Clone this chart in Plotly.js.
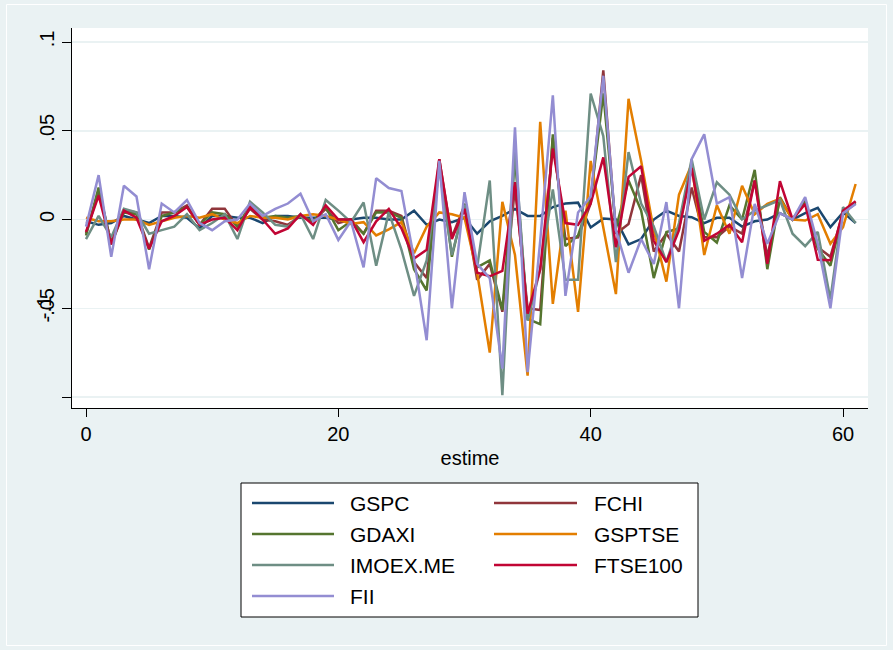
<!DOCTYPE html>
<html>
<head>
<meta charset="utf-8">
<script src="https://cdn.plot.ly/plotly-3.0.1.min.js"></script>
<style>html,body{margin:0;padding:0;background:#EAF2F3;}#chart{width:893px;height:650px;}</style>
</head>
<body>
<div id="chart"></div>
<script>
const estime = [0,1,2,3,4,5,6,7,8,9,10,11,12,13,14,15,16,17,18,19,20,21,22,23,24,25,26,27,28,29,30,31,32,33,34,35,36,37,38,39,40,41,42,43,44,45,46,47,48,49,50,51,52,53,54,55,56,57,58,59,60,61];

const GSPC = [-0.001,-0.003,-0.002,0.002,0.000,-0.002,0.002,0.002,0.001,-0.005,0.002,0.002,0.001,0.001,-0.002,0.002,0.002,0.001,0.001,0.001,0.000,0.000,0.001,0.001,0.000,0.000,0.005,-0.003,0.000,-0.0015,0.001,-0.008,-0.001,0.002,0.006,0.002,0.002,0.007,0.009,0.0095,-0.0045,0.0005,0.000,-0.014,-0.011,0.000,0.005,0.002,0.0013,-0.002,0.001,0.001,-0.004,-0.001,0.000,0.0036,0.000,0.0036,0.0066,-0.0043,0.004,-0.002];

const FCHI = [-0.008,0.016,-0.013,0.005,0.004,-0.016,0.004,0.004,0.008,-0.003,0.006,0.006,-0.004,0.006,0.000,-0.001,-0.003,0.002,-0.001,0.006,-0.002,0.000,-0.008,0.005,0.005,0.002,-0.024,-0.033,0.034,-0.010,0.008,-0.034,-0.025,-0.052,0.018,-0.050,-0.051,0.046,-0.011,-0.010,0.009,0.084,-0.008,-0.0025,0.025,-0.018,-0.008,-0.018,0.018,-0.010,-0.010,-0.004,-0.008,0.022,-0.021,0.0116,0.000,0.0107,-0.0156,-0.021,0.004,0.0098];

const GDAXI = [-0.009,0.018,-0.014,0.004,0.003,-0.017,0.002,0.004,0.007,-0.003,0.004,0.003,-0.004,0.008,0.001,0.002,0.001,0.002,-0.001,0.007,-0.006,-0.001,-0.008,0.004,0.004,0.001,-0.028,-0.040,0.032,-0.021,0.009,-0.027,-0.023,-0.051,0.035,-0.056,-0.059,0.048,-0.015,-0.009,0.012,0.071,-0.005,0.022,0.005,-0.033,-0.007,-0.005,0.031,-0.007,-0.013,0.008,0.000,0.028,-0.028,0.0126,0.000,0.0098,-0.0165,-0.026,0.004,0.009];

const GSPTSE = [0.001,-0.001,-0.001,0.000,0.000,-0.003,-0.001,0.001,0.002,0.001,0.003,0.000,-0.002,0.002,0.001,0.001,0.000,0.002,0.003,0.002,0.000,-0.0025,-0.0015,-0.009,-0.0056,-0.0015,-0.019,-0.004,0.004,0.003,0.001,-0.030,-0.075,0.010,-0.020,-0.088,0.055,-0.0475,0.005,-0.052,0.033,-0.004,-0.042,0.068,0.033,-0.006,-0.035,0.014,0.031,-0.020,0.008,-0.008,0.019,0.003,0.0088,0.0116,0.000,-0.0006,0.003,-0.0137,-0.0043,0.020];

const IMOEX = [-0.011,0.002,-0.010,0.006,0.004,-0.008,-0.006,-0.004,0.003,-0.006,-0.002,0.003,-0.011,0.010,0.004,-0.003,-0.004,0.003,-0.011,0.011,0.005,-0.0015,0.0096,-0.026,0.004,-0.017,-0.043,-0.023,0.029,-0.020,0.008,-0.027,0.022,-0.099,0.040,-0.057,-0.028,0.017,-0.034,-0.034,0.071,0.047,-0.024,0.038,0.009,-0.004,-0.024,-0.002,0.034,0.000,0.021,0.014,0.000,0.005,0.008,0.011,-0.008,-0.015,-0.007,-0.045,0.007,-0.002];

const FTSE100 = [-0.007,0.0135,-0.014,0.005,0.001,-0.0165,-0.001,0.002,0.007,-0.003,0.000,0.001,-0.006,0.007,0.000,-0.008,-0.005,0.003,-0.003,0.008,0.000,0.000,-0.0128,-0.001,0.006,-0.005,-0.022,-0.017,0.034,-0.011,0.006,-0.030,-0.032,-0.029,0.021,-0.053,-0.028,0.040,-0.002,-0.003,0.009,0.035,-0.0156,0.024,0.030,-0.012,-0.024,-0.006,0.029,-0.012,-0.008,-0.003,-0.0128,0.022,-0.025,0.0216,0.000,0.0088,-0.0227,-0.023,0.005,0.0103];

const FII = [-0.004,0.025,-0.021,0.019,0.013,-0.028,0.009,0.004,0.011,-0.002,-0.006,-0.001,0.000,0.009,0.002,0.006,0.009,0.0145,-0.001,0.003,-0.0115,-0.001,-0.027,0.0233,0.0177,0.016,-0.022,-0.068,0.033,-0.050,0.0154,-0.025,-0.033,-0.084,0.052,-0.086,-0.012,0.070,-0.043,0.004,0.013,0.081,-0.006,-0.030,-0.011,-0.025,0.0098,-0.050,0.034,0.048,0.009,0.0126,-0.033,0.0088,-0.0137,0.0036,0.000,0.0126,-0.0137,-0.050,0.0036,0.0088];

const seriesNames = ["GSPC","FCHI","GDAXI","GSPTSE","IMOEX.ME","FTSE100","FII"];
const seriesData = [GSPC, FCHI, GDAXI, GSPTSE, IMOEX, FTSE100, FII];
const seriesColors = ["#1a476f","#90353b","#55752f","#e37e00","#6e8e84","#c10534","#938dd2"];

const yTickVals = [-0.1,-0.05,0,0.05,0.1];
const yTickText = ["","-.05","0",".05",".1"];
const xTickVals = [0,20,40,60];

const FONT = "Liberation Sans, Arial, Helvetica, sans-serif";

// plot area in pixels
const W = 893, H = 650;
const L = 72, R = 868, T = 28, B = 408;
const px2x = p => (p - L) / (R - L);
const py2y = p => (B - p) / (B - T);

const traces = seriesNames.map((n, i) => ({
  type: "scatter", mode: "lines", name: n,
  x: estime, y: seriesData[i],
  line: {color: seriesColors[i], width: 2.5},
  showlegend: false, hoverinfo: "skip"
}));

const shapes = [];
const annotations = [];
// inner graph-region frame
shapes.push({type:"rect", xref:"paper", yref:"paper",
  x0:px2x(6.5), x1:px2x(886.5), y0:py2y(645.5), y1:py2y(4.5),
  line:{color:"#ffffff", width:1}, fillcolor:"rgba(0,0,0,0)", layer:"below"});
// custom Stata-like legend
shapes.push({type:"rect", xref:"paper", yref:"paper",
  x0:px2x(241), x1:px2x(698), y0:py2y(617), y1:py2y(483),
  line:{color:"#000", width:1}, fillcolor:"#ffffff", layer:"above"});
const rowY = [503, 534, 565, 596];
const colLine = [[252,334],[494,577]];
const colText = [348, 592];
seriesNames.forEach((n, i) => {
  const r = Math.floor(i/2), c = i % 2;
  shapes.push({type:"line", xref:"paper", yref:"paper",
    x0:px2x(colLine[c][0]), x1:px2x(colLine[c][1]), y0:py2y(rowY[r]), y1:py2y(rowY[r]),
    line:{color:seriesColors[i], width:2.5}, layer:"above"});
  annotations.push({xref:"paper", yref:"paper", x:px2x(colText[c]), y:py2y(rowY[r]),
    xanchor:"left", yanchor:"middle", text:n, showarrow:false,
    font:{family:FONT, size:21, color:"#000"}});
});
// overlapping "-.1" label as in the original
annotations.push({xref:"paper", yref:"y", x:px2x(44), y:-0.05, text:"-.1", showarrow:false,
  textangle:-90, xanchor:"center", yanchor:"middle", font:{family:FONT, size:20, color:"#000"}});

const layout = {
  width: W, height: H,
  paper_bgcolor: "#EAF2F3", plot_bgcolor: "#ffffff",
  margin: {l: L, r: W - R, t: T, b: H - B, pad: 0},
  showlegend: false,
  font: {family: FONT, size: 20, color: "#000"},
  xaxis: {
    range: [-1.11, 61.98], tickvals: xTickVals, ticks: "outside", ticklen: 8, tickcolor: "#000",
    showline: true, linecolor: "#000", linewidth: 1, showgrid: false, zeroline: false,
    tickfont: {family: FONT, size: 20, color: "#000"},
    title: {text: "estime", font: {family: FONT, size: 20, color: "#000"}, standoff: 6}
  },
  yaxis: {
    range: [-0.1062, 0.1079], tickvals: yTickVals, ticktext: yTickText, tickangle: -90,
    ticks: "outside", ticklen: 9, tickcolor: "#000",
    showline: true, linecolor: "#000", linewidth: 1,
    showgrid: true, gridcolor: "#EAF2F3", gridwidth: 1.5, zeroline: false,
    tickfont: {family: FONT, size: 20, color: "#000"}
  },
  shapes: shapes,
  annotations: annotations
};

Plotly.newPlot("chart", traces, layout, {staticPlot: true, displayModeBar: false});
</script>
</body>
</html>
